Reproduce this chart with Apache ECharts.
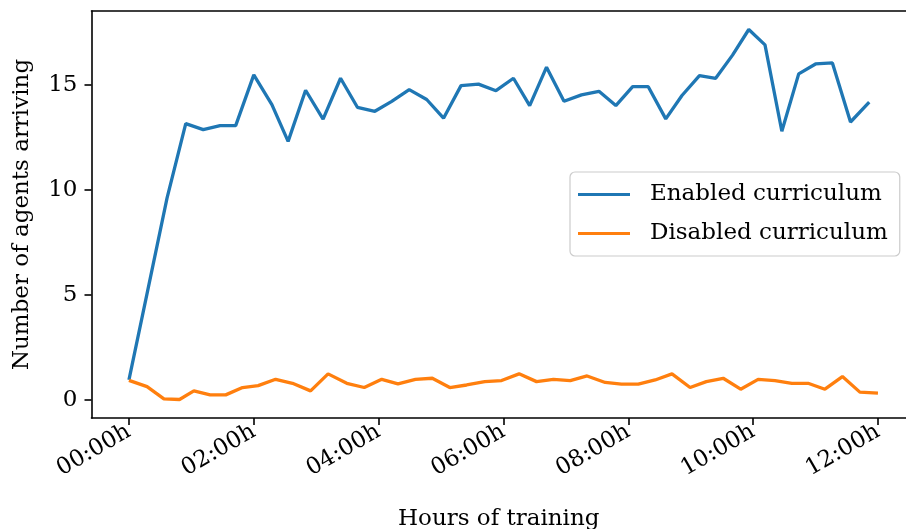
<!DOCTYPE html>
<html>
<head>
<meta charset="utf-8">
<script src="https://cdn.jsdelivr.net/npm/echarts@6/dist/echarts.min.js"></script>
<style>
html,body{margin:0;padding:0;background:#fff;}
#chart{width:906px;height:529px;}
</style>
</head>
<body>
<div id="chart"></div>
<script>
// Enabled curriculum: hours of training and number of agents arriving
const enabledHours = [0, 0.30, 0.61, 0.91, 1.19, 1.46, 1.71, 2.00, 2.29, 2.55, 2.83, 3.11, 3.39, 3.66, 3.94, 4.21, 4.49, 4.77, 5.04, 5.32, 5.60, 5.88, 6.16, 6.42, 6.69, 6.97, 7.25, 7.53, 7.80, 8.07, 8.32, 8.60, 8.86, 9.14, 9.40, 9.67, 9.93, 10.19, 10.46, 10.73, 11.00, 11.27, 11.56, 11.86];
const enabledValues = [0.95, 5.2, 9.6, 13.14, 12.86, 13.05, 13.05, 15.46, 14.05, 12.3, 14.73, 13.36, 15.3, 13.92, 13.73, 14.2, 14.76, 14.29, 13.4, 14.95, 15.02, 14.71, 15.3, 14.0, 15.83, 14.21, 14.51, 14.68, 14.0, 14.9, 14.9, 13.37, 14.48, 15.43, 15.3, 16.4, 17.62, 16.89, 12.78, 15.51, 15.98, 16.03, 13.22, 14.16];

// Disabled curriculum
const disabledHours = [0, 0.29, 0.56, 0.81, 1.04, 1.30, 1.55, 1.82, 2.07, 2.35, 2.62, 2.91, 3.19, 3.49, 3.77, 4.05, 4.31, 4.59, 4.86, 5.14, 5.41, 5.70, 5.97, 6.25, 6.53, 6.80, 7.07, 7.34, 7.63, 7.89, 8.16, 8.43, 8.70, 8.99, 9.25, 9.52, 9.80, 10.08, 10.35, 10.62, 10.88, 11.15, 11.43, 11.71, 12.00];
const disabledValues = [0.93, 0.63, 0.05, 0.02, 0.43, 0.24, 0.24, 0.59, 0.68, 0.98, 0.79, 0.43, 1.24, 0.79, 0.59, 0.98, 0.76, 0.98, 1.03, 0.59, 0.71, 0.87, 0.92, 1.24, 0.87, 0.98, 0.92, 1.14, 0.83, 0.75, 0.75, 0.95, 1.24, 0.59, 0.87, 1.03, 0.51, 0.98, 0.92, 0.79, 0.79, 0.51, 1.11, 0.37, 0.32];

const xTicks = [0, 2, 4, 6, 8, 10, 12];
const yTicks = [0, 5, 10, 15];
const seriesNames = ['Enabled curriculum', 'Disabled curriculum'];

const FONT = 'DejaVu Serif';
const FS = 23;
const SPINE = 1.6;

function pairs(xs, ys) { return xs.map((x, i) => [x, ys[i]]); }
function fmtHour(v) { const h = Math.round(v); return (h < 10 ? '0' + h : '' + h) + ':00h'; }

const X_MIN = -0.6, X_MAX = 12.449;

const chart = echarts.init(document.getElementById('chart'), null, {renderer: 'canvas'});
chart.setOption({
  animation: false,
  backgroundColor: '#ffffff',
  grid: {
    left: 91.5, top: 11, width: 814.5, height: 407,
    show: false, containLabel: false, outerBoundsMode: 'none'
  },
  xAxis: [{
    type: 'value', min: X_MIN, max: X_MAX,
    name: 'Hours of training', nameLocation: 'middle', nameGap: 90,
    nameTextStyle: {fontFamily: FONT, fontSize: FS, color: '#000'},
    axisLine: {show: true, onZero: false, lineStyle: {color: '#000', width: SPINE}},
    axisTick: {show: true, length: 7, lineStyle: {color: '#000', width: SPINE}, customValues: xTicks},
    axisLabel: {fontFamily: FONT, fontSize: FS, color: '#000', rotate: 30, margin: 12,
      customValues: xTicks, formatter: fmtHour},
    splitLine: {show: false}
  }, {
    type: 'value', min: X_MIN, max: X_MAX, position: 'top',
    axisLine: {show: true, onZero: false, lineStyle: {color: '#000', width: SPINE}},
    axisTick: {show: false}, axisLabel: {show: false}, splitLine: {show: false}
  }],
  yAxis: {
    type: 'value', min: -0.86, max: 18.5,
    name: 'Number of agents arriving', nameLocation: 'middle', nameGap: 58, nameRotate: 90,
    nameTextStyle: {fontFamily: FONT, fontSize: FS, color: '#000'},
    axisLine: {show: true, onZero: false, lineStyle: {color: '#000', width: SPINE}},
    axisTick: {show: true, length: 7, lineStyle: {color: '#000', width: SPINE}, customValues: yTicks},
    axisLabel: {fontFamily: FONT, fontSize: FS, color: '#000', margin: 14,
      customValues: yTicks},
    splitLine: {show: false}
  },
  legend: {
    orient: 'vertical', left: 570, top: 172,
    icon: 'rect', itemWidth: 52, itemHeight: 3.2, itemGap: 12,
    padding: [9, 12, 9, 8],
    backgroundColor: 'rgba(255,255,255,0.8)',
    borderColor: '#cccccc', borderWidth: 1.2, borderRadius: 5,
    textStyle: {fontFamily: FONT, fontSize: FS, color: '#000', lineHeight: 27, padding: [0, 0, 0, 15]},
    data: seriesNames
  },
  series: [
    {name: seriesNames[0], type: 'line', data: pairs(enabledHours, enabledValues), symbol: 'none',
      lineStyle: {color: '#1f77b4', width: 3.3}, itemStyle: {color: '#1f77b4'}},
    {name: seriesNames[1], type: 'line', data: pairs(disabledHours, disabledValues), symbol: 'none',
      lineStyle: {color: '#ff7f0e', width: 3.3}, itemStyle: {color: '#ff7f0e'}}
  ]
});
</script>
</body>
</html>
